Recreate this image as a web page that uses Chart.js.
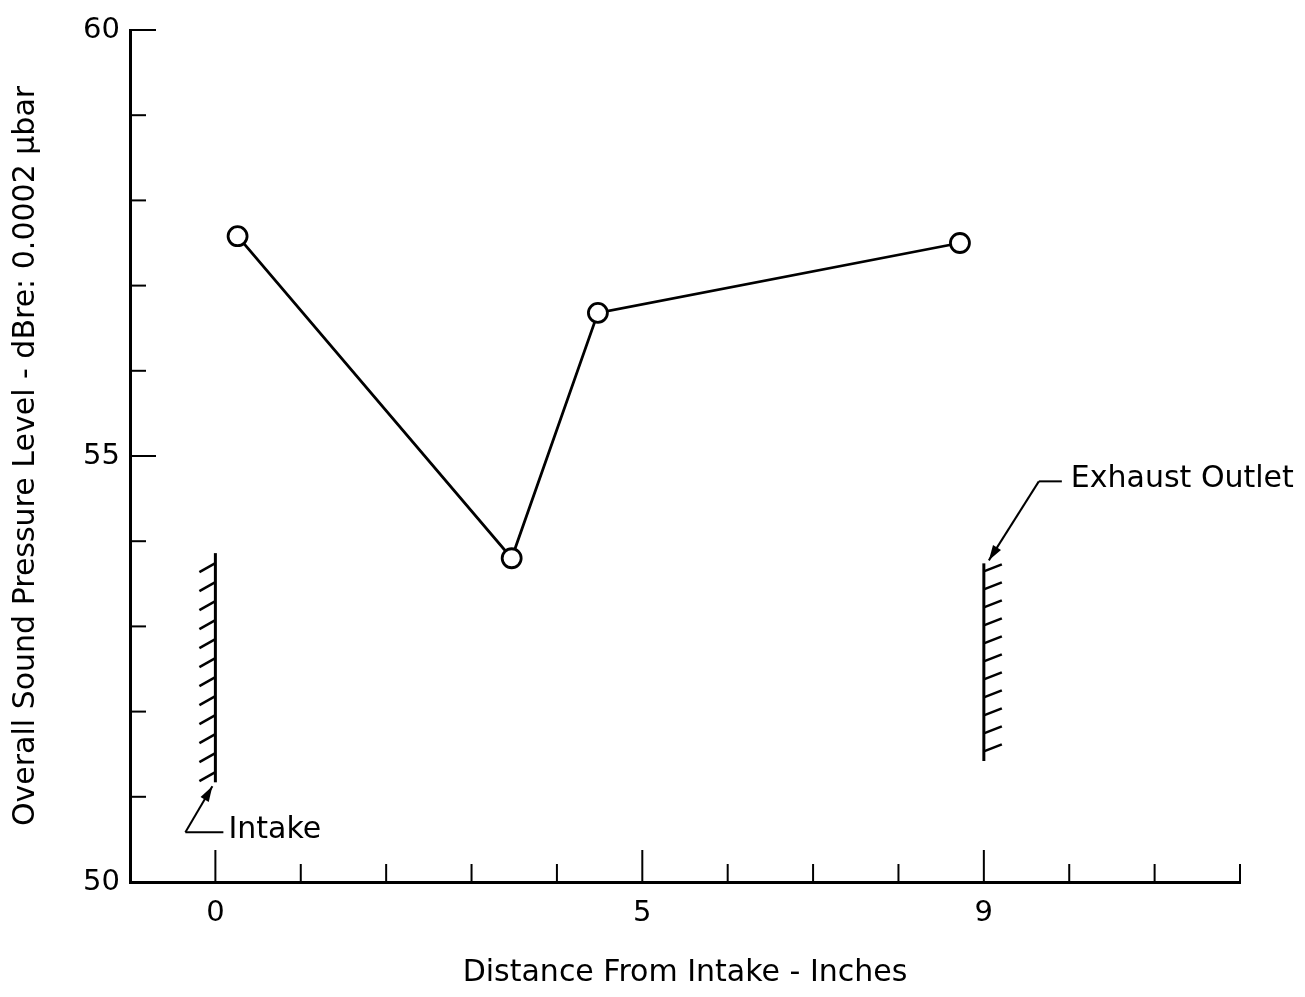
<!DOCTYPE html>
<html>
<head>
<meta charset="utf-8">
<script src="https://cdn.jsdelivr.net/npm/chart.js@4.4.0/dist/chart.umd.min.js"></script>
<style>
  body { margin: 0; background: #fff; }
  canvas { display: block; }
</style>
</head>
<body>
<canvas id="grafica" width="1305" height="997"></canvas>
<script>
// datos
const distancia = [0.26, 3.47, 4.48, 8.72];
const nivelSonido = [57.58, 53.8, 56.68, 57.5];
const ticksX = [0, 5, 9];
const ticksY = [50, 55, 60];
// paredes (entrada / salida): x, y inicial, y final
const paredEntrada = [0, 51.17, 53.86];
const paredSalida = [9, 51.42, 53.74];

const fuente = "'DejaVu Sans', sans-serif";

// dibuja marcas hacia adentro, paredes con rayado y flechas
const anotaciones = {
  id: "anotaciones",
  afterDraw(chart) {
    const ctx = chart.ctx;
    const x = chart.scales.x;
    const y = chart.scales.y;
    const area = chart.chartArea;
    ctx.save();
    ctx.strokeStyle = "#000";
    ctx.fillStyle = "#000";
    ctx.lineWidth = 2;

    // marcas del eje x (hacia arriba)
    x.ticks.forEach((t) => {
      const px = x.getPixelForValue(t.value);
      if (px <= area.left + 1) return;
      const largo = ticksX.includes(t.value) ? 32 : 18;
      ctx.beginPath();
      ctx.moveTo(px, area.bottom);
      ctx.lineTo(px, area.bottom - largo);
      ctx.stroke();
    });
    // marcas del eje y (hacia la derecha)
    y.ticks.forEach((t) => {
      const py = y.getPixelForValue(t.value);
      if (t.value === 50) return;
      const largo = ticksY.includes(t.value) ? 26 : 16;
      ctx.beginPath();
      ctx.moveTo(area.left, py);
      ctx.lineTo(area.left + largo, py);
      ctx.stroke();
    });

    // pared de entrada
    const ex = x.getPixelForValue(paredEntrada[0]);
    const ey1 = y.getPixelForValue(paredEntrada[1]);
    const ey2 = y.getPixelForValue(paredEntrada[2]);
    ctx.lineWidth = 3;
    ctx.beginPath();
    ctx.moveTo(ex, ey1);
    ctx.lineTo(ex, ey2);
    ctx.stroke();
    ctx.lineWidth = 2.5;
    for (let py = ey2 + 10; py < ey1; py += 19) {
      ctx.beginPath();
      ctx.moveTo(ex, py);
      ctx.lineTo(ex - 16, py + 9);
      ctx.stroke();
    }

    // pared de salida
    const sx = x.getPixelForValue(paredSalida[0]);
    const sy1 = y.getPixelForValue(paredSalida[1]);
    const sy2 = y.getPixelForValue(paredSalida[2]);
    ctx.lineWidth = 3;
    ctx.beginPath();
    ctx.moveTo(sx, sy1);
    ctx.lineTo(sx, sy2);
    ctx.stroke();
    ctx.lineWidth = 2.5;
    for (let py = sy2 + 8; py < sy1; py += 18) {
      ctx.beginPath();
      ctx.moveTo(sx, py);
      ctx.lineTo(sx + 18, py - 7);
      ctx.stroke();
    }

    // flecha y texto "Intake"
    ctx.lineWidth = 2;
    flecha(ctx, ex - 30, ey1 + 50, ex - 3, ey1 + 4);
    ctx.beginPath();
    ctx.moveTo(ex - 30, ey1 + 50);
    ctx.lineTo(ex + 8, ey1 + 50);
    ctx.stroke();
    ctx.font = "30px " + fuente;
    ctx.textBaseline = "middle";
    ctx.textAlign = "left";
    ctx.fillText("Intake", ex + 13, ey1 + 48);

    // flecha y texto "Exhaust Outlet"
    flecha(ctx, sx + 55, sy2 - 82, sx + 5, sy2 - 3);
    ctx.beginPath();
    ctx.moveTo(sx + 55, sy2 - 82);
    ctx.lineTo(sx + 78, sy2 - 82);
    ctx.stroke();
    ctx.fillText("Exhaust Outlet", sx + 87, sy2 - 84);
    ctx.restore();
  },
};

function flecha(ctx, x1, y1, x2, y2) {
  ctx.beginPath();
  ctx.moveTo(x1, y1);
  ctx.lineTo(x2, y2);
  ctx.stroke();
  const ang = Math.atan2(y2 - y1, x2 - x1);
  const l = 16;
  ctx.beginPath();
  ctx.moveTo(x2, y2);
  ctx.lineTo(x2 - l * Math.cos(ang - 0.3), y2 - l * Math.sin(ang - 0.3));
  ctx.lineTo(x2 - l * Math.cos(ang + 0.3), y2 - l * Math.sin(ang + 0.3));
  ctx.closePath();
  ctx.fill();
}

const ctx = document.getElementById("grafica").getContext("2d");
new Chart(ctx, {
  type: "line",
  data: {
    datasets: [
      {
        data: distancia.map((d, i) => ({ x: d, y: nivelSonido[i] })),
        borderColor: "#000",
        borderWidth: 2.8,
        pointRadius: 9.5,
        pointBorderWidth: 2.8,
        pointBackgroundColor: "#fff",
        pointBorderColor: "#000",
        tension: 0,
      },
    ],
  },
  options: {
    responsive: false,
    animation: false,
    layout: { padding: { top: 30, right: 65, left: 0, bottom: 0 } },
    plugins: { legend: { display: false }, tooltip: { enabled: false } },
    scales: {
      x: {
        type: "linear",
        min: -1,
        max: 12,
        afterFit: (s) => { s.height = 115; },
        grid: { display: false, drawTicks: false },
        border: { display: true, color: "#000", width: 3 },
        ticks: {
          stepSize: 1,
          autoSkip: false,
          maxRotation: 0,
          padding: 14,
          color: "#000",
          font: { size: 29, family: fuente },
          callback: (v) => (ticksX.includes(v) ? v : ""),
        },
        title: {
          display: true,
          text: "Distance From Intake - Inches",
          color: "#000",
          font: { size: 30, family: fuente },
          padding: { top: 0, bottom: 6 },
        },
      },
      y: {
        type: "linear",
        min: 50,
        max: 60,
        afterFit: (s) => { s.width = 130; },
        grid: { display: false, drawTicks: false },
        border: { display: true, color: "#000", width: 3 },
        ticks: {
          stepSize: 1,
          autoSkip: false,
          padding: 10,
          color: "#000",
          font: { size: 29, family: fuente },
          callback: (v) => (ticksY.includes(v) ? v : ""),
        },
        title: {
          display: true,
          text: "Overall Sound Pressure Level - dBre: 0.0002 \u03bcbar",
          color: "#000",
          font: { size: 30, family: fuente },
          padding: { top: 8, bottom: 0 },
        },
      },
    },
  },
  plugins: [anotaciones],
});
</script>
</body>
</html>
